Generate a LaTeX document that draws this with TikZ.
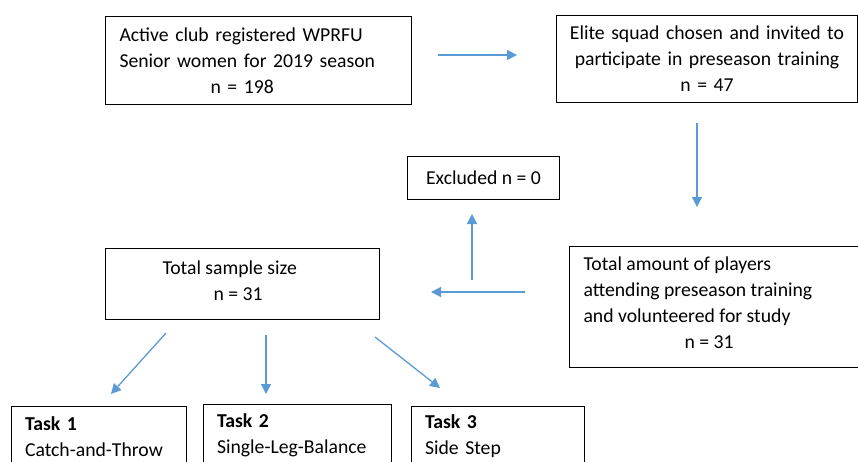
\documentclass[tikz,border=0pt]{standalone}
\usepackage{fontspec}
\setmainfont{Carlito}
\usetikzlibrary{arrows.meta}
\definecolor{flowblue}{RGB}{91,155,213}
\begin{document}
\begin{tikzpicture}[
    x=1pt, y=-1pt,
    box/.style={draw=black, line width=1pt, rectangle, anchor=north west,
        inner xsep=14pt, inner ysep=0pt,
        font=\fontsize{19.7}{26}\selectfont},
    flow/.style={-{Triangle[width=10pt,length=10pt]}, draw=flowblue, line width=1.3pt}
]
\useasboundingbox (0,0) rectangle (858,461);

% ======================
% Top row
% ======================
\node[box, text width=278pt, minimum height=88pt, align=left] (reg) at (105,16)
    {Active club registered WPRFU\\Senior women for 2019 season\\\hspace*{91pt}n = 198};
\node[box, text width=285pt, inner xsep=8pt, minimum height=87pt, align=center] (elite) at (556,15)
    {Elite squad chosen and invited to\\participate in preseason training\\n = 47};

% ======================
% Middle
% ======================
\node[box, minimum width=152pt, minimum height=43pt, align=center] (excl) at (407,156)
    {Excluded n = 0};
\node[box, minimum height=121pt] (attend) at (569,246)
    {\parbox[c][101pt][t]{261pt}{\raggedright Total amount of players\\attending preseason training\\and volunteered for study\\\hspace*{101pt}n = 31}};
\node[box, minimum height=71pt] (sample) at (105,248)
    {\parbox[c][47pt][t]{246pt}{\raggedright\hspace*{43pt}Total sample size\\\hspace*{94pt}n = 31}};

% ======================
% Tasks
% ======================
\node[box, text width=148pt, minimum height=60pt, align=left, inner xsep=13.5pt] (task1) at (11,406)
    {\textbf{Task 1}\\Catch-and-Throw};
\node[box, text width=161pt, minimum height=62pt, align=left, inner xsep=13.5pt] (task2) at (203,404)
    {\textbf{Task 2}\\Single-Leg-Balance};
\node[box, text width=146pt, minimum height=60pt, align=left, inner xsep=13.5pt] (task3) at (411,406)
    {\textbf{Task 3}\\Side Step};

% ======================
% Arrow ends
% ======================
\coordinate (regOut)    at (438,55);
\coordinate (eliteIn)   at (517,55);
\coordinate (eliteOut)  at (697,123);
\coordinate (attendIn)  at (697,207);
\coordinate (attendOut) at (525,292);
\coordinate (sampleIn)  at (431,292);
\coordinate (exclOut)   at (472,280);
\coordinate (exclIn)    at (472,214);
\coordinate (splitA)    at (166,333);
\coordinate (splitB)    at (266,335);
\coordinate (splitC)    at (375,337);
\coordinate (taskAIn)   at (111,394);
\coordinate (taskBIn)   at (266,394);
\coordinate (taskCIn)   at (440,388);

% ======================
% Connections
% ======================
\draw[flow] (regOut) -- (eliteIn);
\draw[flow] (eliteOut) -- (attendIn);
\draw[flow] (attendOut) -- (sampleIn);
\draw[flow] (exclOut) -- (exclIn);
\draw[flow] (splitA) -- (taskAIn);
\draw[flow] (splitB) -- (taskBIn);
\draw[flow] (splitC) -- (taskCIn);

\end{tikzpicture}
\end{document}
